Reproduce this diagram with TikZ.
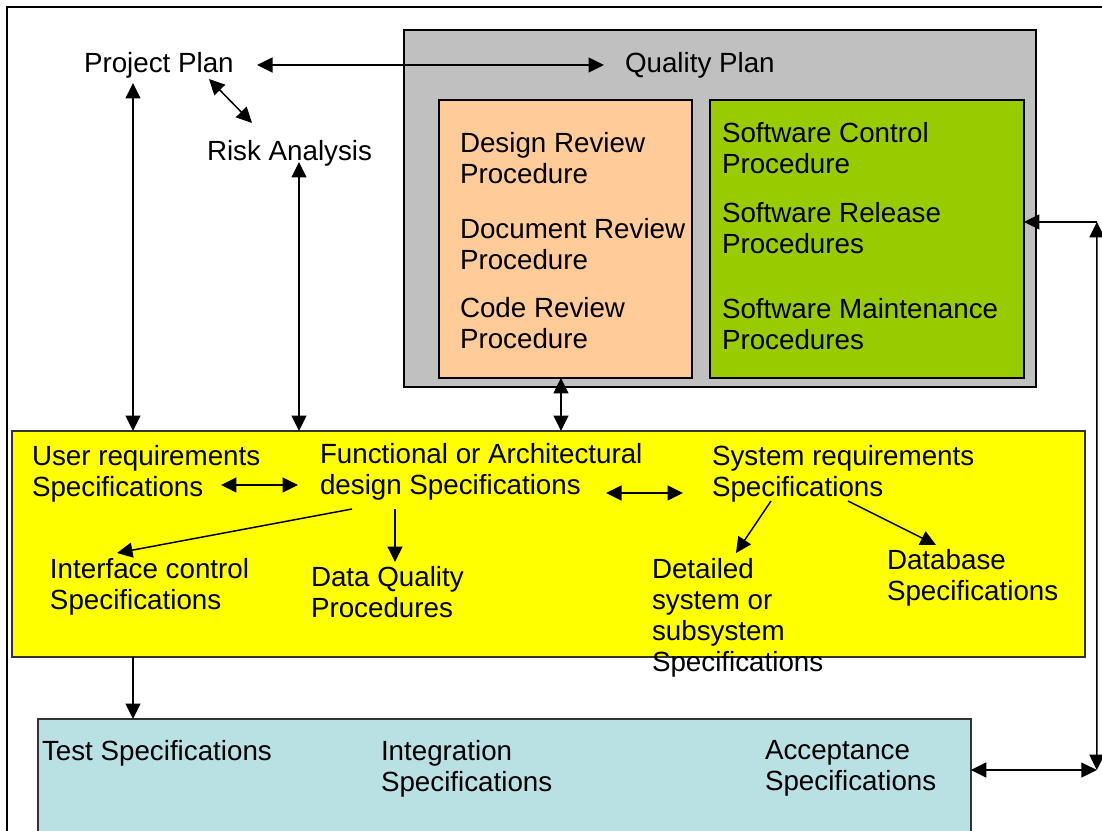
\documentclass[tikz,border=0pt]{standalone}
\usepackage{fontspec}
\setmainfont{Liberation Sans}
\usetikzlibrary{arrows.meta}
\definecolor{qgray}{HTML}{C0C0C0}
\definecolor{qorange}{HTML}{FFCC99}
\definecolor{qgreen}{HTML}{99CC00}
\definecolor{qyellow}{HTML}{FFFF00}
\definecolor{qblue}{HTML}{B9E0E3}
\begin{document}
\begin{tikzpicture}[x=0.02cm,y=-0.02cm,
  txt/.style={anchor=north west, inner sep=0pt, outer sep=0pt, align=left,
    font=\fontsize{15.8}{17.7}\selectfont},
  panel/.style={draw, line width=1.1pt, anchor=north west, inner sep=0pt, outer sep=0pt},
  link/.style={line width=0.85pt, -{Triangle[length=0.31cm,width=0.3cm]}},
  dlink/.style={line width=0.85pt,
    {Triangle[length=0.31cm,width=0.3cm]}-{Triangle[length=0.31cm,width=0.3cm]}}]
\useasboundingbox (0,0) rectangle (1102,831);

% outer frame (only top and left edges fall inside the page)
\draw[line width=1.1pt] (7,845) -- (7,7) -- (1115,7);

% panels
\node[panel, fill=qgray, minimum width=12.64cm, minimum height=7.14cm] (qbox) at (404,30) {};
\node[panel, fill=qorange, minimum width=5.06cm, minimum height=5.56cm] (obox) at (439,100) {};
\node[panel, fill=qgreen, minimum width=6.28cm, minimum height=5.56cm] (gbox) at (710,100) {};
\node[panel, fill=qyellow, draw=black!80, line width=0.9pt, minimum width=21.46cm, minimum height=4.52cm] (ybox) at (12,431) {};
\node[panel, fill=qblue, draw=black!80, line width=0.9pt, minimum width=18.66cm, minimum height=2.8cm] (tbox) at (38,719) {};

% plans
\node[txt] (pp) at (84,52) {Project Plan};
\node[txt] (ra) at (207,140) {Risk Analysis};
\node[txt] (qp) at (625,52) {Quality Plan};

% review procedures
\node[txt] (drp) at (460,132) {Design Review\\Procedure};
\node[txt] (docrp) at (460,218) {Document Review\\Procedure};
\node[txt] (crp) at (460,297) {Code Review\\Procedure};

% software procedures
\node[txt] (scp) at (722,122) {Software Control\\Procedure};
\node[txt] (srp) at (722,202) {Software Release\\Procedures};
\node[txt] (smp) at (722,298) {Software Maintenance\\Procedures};

% specifications
\node[txt] (ur) at (32,445) {User requirements\\Specifications};
\node[txt] (fa) at (320,443) {Functional or Architectural\\design Specifications};
\node[txt] (sr) at (712,445) {System requirements\\Specifications};
\node[txt] (ic) at (50,558) {Interface control\\Specifications};
\node[txt] (dq) at (311,566) {Data Quality\\Procedures};
\node[txt] (det) at (652,558) {Detailed\\system or\\subsystem\\Specifications};
\node[txt] (db) at (887,549) {Database\\Specifications};

% test specifications
\node[txt] (ts) at (42,740) {Test Specifications};
\node[txt] (its) at (381,740) {Integration\\Specifications};
\node[txt] (acs) at (765,740) {Acceptance\\Specifications};

% connector end points
\coordinate (ppR) at ([shift={(173,13)}]pp.north west);
\coordinate (qpL) at ([shift={(-21,13)}]qp.north west);
\coordinate (ppRA) at ([shift={(125,27)}]pp.north west);
\coordinate (raPP) at ([shift={(45,-17)}]ra.north west);
\coordinate (ppDown) at ([shift={(49,31)}]pp.north west);
\coordinate (raDown) at ([shift={(92,22)}]ra.north west);
\coordinate (qDown) at ([shift={(-4.5,0)}]obox.south);
\coordinate (urR) at ([shift={(189,40)}]ur.north west);
\coordinate (faL) at ([shift={(-22,42)}]fa.north west);
\coordinate (faR) at ([shift={(286,50)}]fa.north west);
\coordinate (srL) at ([shift={(-29,48)}]sr.north west);
\coordinate (faIC) at ([shift={(32,66)}]fa.north west);
\coordinate (icTop) at ([shift={(67,-5)}]ic.north west);
\coordinate (faDQ) at ([shift={(75,66)}]fa.north west);
\coordinate (dqTop) at ([shift={(84,-4)}]dq.north west);
\coordinate (srDet) at ([shift={(59,56)}]sr.north west);
\coordinate (detTop) at ([shift={(84,-5)}]det.north west);
\coordinate (srDB) at ([shift={(136,56)}]sr.north west);
\coordinate (dbTop) at ([shift={(49,-4)}]db.north west);
\coordinate (yDown) at ([shift={(121,0)}]ybox.south west);
\coordinate (gIn) at ([shift={(0,-17)}]gbox.east);
\coordinate (rTop) at ([shift={(73,-17)}]gbox.east);
\coordinate (tIn) at ([shift={(0,51)}]tbox.north east);
\coordinate (rBot) at ([shift={(126,51)}]tbox.north east);

% connectors
\draw[dlink] (ppR) -- (qpL);
\draw[dlink] (ppRA) -- (raPP);
\draw[dlink] (ppDown) -- (ppDown |- ybox.north);
\draw[dlink] (raDown) -- (raDown |- ybox.north);
\draw[dlink] (qDown) -- (qDown |- ybox.north);
\draw[dlink] (urR) -- (faL);
\draw[dlink] (faR) -- (srL);
\draw[link] (faIC) -- (icTop);
\draw[link] (faDQ) -- (faDQ |- dqTop);
\draw[link] (srDet) -- (detTop);
\draw[link] (srDB) -- (dbTop);
\draw[link] (yDown) -- (yDown |- tbox.north);
\draw[link] (rTop) -- (gIn);
\draw[dlink] (rTop) -- (rBot);
\draw[dlink] (tIn) -- (rBot);
\end{tikzpicture}
\end{document}
